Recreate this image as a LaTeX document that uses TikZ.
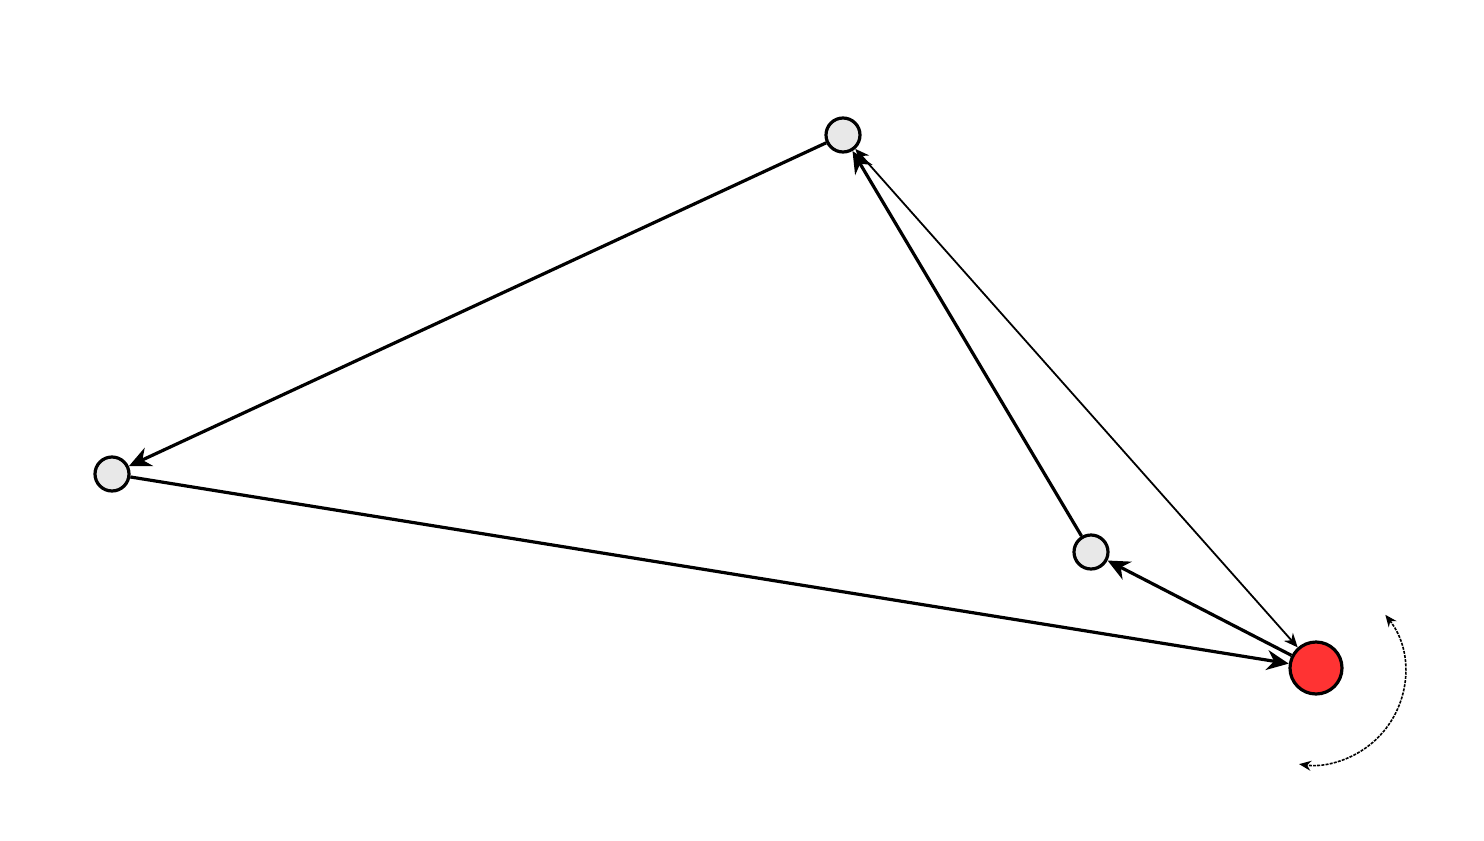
\documentclass[tikz,border=0pt]{standalone}
\usetikzlibrary{arrows.meta}
\begin{document}
\begin{tikzpicture}[x=0.5pt,y=-0.5pt,
  vtx/.style={circle,draw=black,line width=1.6pt,fill=black!9,minimum size=17pt,inner sep=0pt},
  redvtx/.style={circle,draw=black,line width=1.6pt,fill=red!80!white,minimum size=26pt,inner sep=0pt},
  edge/.style={line width=1.6pt,-{Stealth[length=11pt,width=10pt]}},
  thinedge/.style={line width=0.9pt,{Stealth[length=7pt,width=6pt]}-{Stealth[length=7pt,width=6pt]}},
  arcedge/.style={line width=0.8pt,dash pattern=on 1.5pt off 0.6pt,{Stealth[length=6pt,width=5pt]}-{Stealth[length=6pt,width=5pt]}}]
\useasboundingbox (0,0) rectangle (1484,841);
\node[vtx] (t) at (843,135) {};
\node[vtx] (l) at (112,474) {};
\node[vtx] (m) at (1091,552) {};
\node[redvtx] (r) at (1316,668) {};
\draw[edge] (t) -- (l);
\draw[edge] (l) -- (r);
\draw[edge] (r) -- (m);
\draw[edge] (m) -- (t);
\draw[thinedge] (r) -- (t);
\coordinate (ac) at (1312,672);
\draw[arcedge] ([shift={(-38:93)}]ac) arc[start angle=-38,end angle=98,radius=93];
\end{tikzpicture}
\end{document}
